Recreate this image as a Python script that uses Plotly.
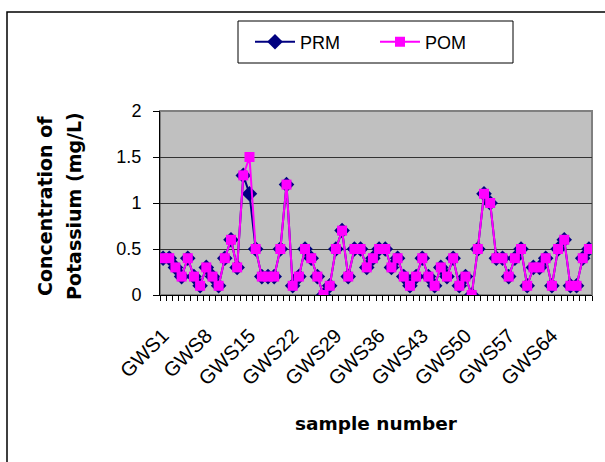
import plotly.graph_objects as go

# ---- data ----
categories = [f"GWS{i}" for i in range(1, 71)]
label_every = 7
pom = [0.4, 0.4, 0.3, 0.2, 0.4, 0.2, 0.1, 0.3, 0.2, 0.1,
       0.4, 0.6, 0.3, 1.3, 1.5, 0.5, 0.2, 0.2, 0.2, 0.5,
       1.2, 0.1, 0.2, 0.5, 0.4, 0.2, 0.0, 0.1, 0.5, 0.7,
       0.2, 0.5, 0.5, 0.3, 0.4, 0.5, 0.5, 0.3, 0.4, 0.2,
       0.1, 0.2, 0.4, 0.2, 0.1, 0.3, 0.2, 0.4, 0.1, 0.2,
       0.0, 0.5, 1.1, 1.0, 0.4, 0.4, 0.2, 0.4, 0.5, 0.1,
       0.3, 0.3, 0.4, 0.1, 0.5, 0.6, 0.1, 0.1, 0.4, 0.5]
prm = [0.4, 0.4, 0.3, 0.2, 0.4, 0.2, 0.1, 0.3, 0.2, 0.1,
       0.4, 0.6, 0.3, 1.3, 1.1, 0.5, 0.2, 0.2, 0.2, 0.5,
       1.2, 0.1, 0.2, 0.5, 0.4, 0.2, 0.0, 0.1, 0.5, 0.7,
       0.2, 0.5, 0.5, 0.3, 0.4, 0.5, 0.5, 0.3, 0.4, 0.2,
       0.1, 0.2, 0.4, 0.2, 0.1, 0.3, 0.2, 0.4, 0.1, 0.2,
       0.0, 0.5, 1.1, 1.0, 0.4, 0.4, 0.2, 0.4, 0.5, 0.1,
       0.3, 0.3, 0.4, 0.1, 0.5, 0.6, 0.1, 0.1, 0.4, 0.5]
y_ticks = [0, 0.5, 1, 1.5, 2]
y_tick_text = ["0", "0.5", "1", "1.5", "2"]
tick_text = [c if i % label_every == 0 else "" for i, c in enumerate(categories)]

W, H = 605, 462
L, R, T, B = 160, 13, 111, 167
pw, ph = W - L - R, H - T - B

def px(x):
    return (x - L) / pw

def py(y):
    return (H - B - y) / ph

fig = go.Figure()
fig.add_trace(go.Scatter(
    x=categories, y=prm, name="PRM", mode="lines+markers",
    line=dict(color="#000080", width=2),
    marker=dict(symbol="diamond", size=12, color="#000080"),
))
fig.add_trace(go.Scatter(
    x=categories, y=pom, name="POM", mode="lines+markers",
    line=dict(color="#FF00FF", width=2),
    marker=dict(symbol="square", size=10, color="#FF00FF"),
))

fig.update_layout(
    width=W, height=H,
    margin=dict(l=L, r=R, t=T, b=B),
    paper_bgcolor="white", plot_bgcolor="#C0C0C0",
    font=dict(family="Liberation Sans, Arial", size=18, color="black"),
    showlegend=True,
    legend=dict(orientation="h", x=px(250), xanchor="left",
                y=py(42), yanchor="middle",
                bgcolor="rgba(0,0,0,0)", borderwidth=0,
                font=dict(size=18), itemwidth=40, entrywidth=70,
                entrywidthmode="pixels"),
    xaxis=dict(type="category", categoryorder="array", categoryarray=categories,
               range=[-0.5, len(categories) - 0.5],
               tickmode="array", tickvals=categories, ticktext=tick_text,
               tickson="boundaries", ticks="outside", ticklen=5, tickcolor="black",
               tickangle=-45, showgrid=False, showline=True, linecolor="black",
               linewidth=1, zeroline=False, ticklabelstandoff=20,
               tickfont=dict(size=20)),
    yaxis=dict(range=[0, 2], tickmode="array", tickvals=y_ticks, ticktext=y_tick_text,
               ticks="outside", ticklen=6, tickcolor="black",
               showgrid=True, gridcolor="#333333", gridwidth=1,
               showline=True, linecolor="black", linewidth=1, zeroline=False,
               ticklabelstandoff=8, tickfont=dict(size=18)),
    shapes=[
        # outer chart border
        dict(type="rect", xref="paper", yref="paper", x0=px(7), x1=px(800),
             y0=py(700), y1=py(12), line=dict(color="black", width=1.5),
             fillcolor="rgba(0,0,0,0)", layer="below"),
        # plot area border (gray)
        dict(type="rect", xref="paper", yref="paper", x0=0, x1=1, y0=0, y1=1,
             line=dict(color="#808080", width=2), layer="below"),
        # legend box
        dict(type="rect", xref="paper", yref="paper", x0=px(238), x1=px(513),
             y0=py(63), y1=py(21), line=dict(color="black", width=1),
             fillcolor="white", layer="above"),
    ],
    annotations=[
        dict(text="<b>Concentration of</b>", xref="paper", yref="paper",
             x=px(45), y=py(206), textangle=-90, showarrow=False,
             font=dict(family="DejaVu Sans", size=19), xanchor="center", yanchor="middle"),
        dict(text="<b>Potassium (mg/L)</b>", xref="paper", yref="paper",
             x=px(74), y=py(206), textangle=-90, showarrow=False,
             font=dict(family="DejaVu Sans", size=19), xanchor="center", yanchor="middle"),
        dict(text="<b>sample number</b>", xref="paper", yref="paper",
             x=px(376), y=py(423), showarrow=False,
             font=dict(family="DejaVu Sans", size=18.5), xanchor="center", yanchor="middle"),
    ],
)

fig.write_html("out.html")
